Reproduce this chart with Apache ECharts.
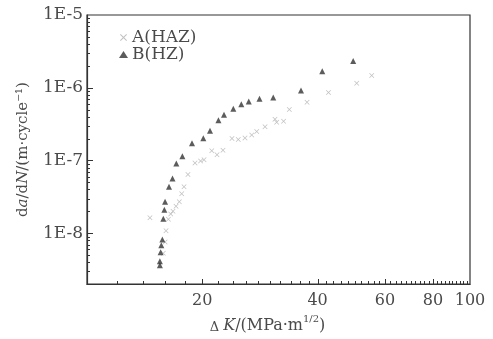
<!DOCTYPE html>
<html>
<head>
<meta charset="utf-8">
<script src="https://cdn.jsdelivr.net/npm/echarts@6/dist/echarts.min.js"></script>
<style>
html,body{margin:0;padding:0;background:#fff;}
#c{width:493px;height:339px;}
</style>
</head>
<body>
<div id="c"></div>
<script>
// Series A (HAZ): ΔK (MPa·m^1/2) and da/dN (m/cycle)
const aX = [14.60,15.82,15.99,16.08,16.31,16.54,16.77,17.08,17.42,17.67,17.92,18.35,19.14,19.79,20.21,21.17,21.85,22.65,23.91,24.83,25.85,26.92,27.74,29.16,30.96,31.28,32.60,33.75,37.54,42.71,50.60,55.38];
const aY = [1.63e-8,5.30e-9,7.57e-9,1.08e-8,1.56e-8,1.84e-8,2.01e-8,2.35e-8,2.71e-8,3.49e-8,4.37e-8,6.44e-8,9.21e-8,9.88e-8,1.02e-7,1.36e-7,1.20e-7,1.38e-7,2.01e-7,1.94e-7,2.04e-7,2.24e-7,2.51e-7,2.90e-7,3.68e-7,3.36e-7,3.46e-7,5.04e-7,6.32e-7,8.58e-7,1.15e-6,1.47e-6];
// Series B (HZ)
const bX = [15.50,15.50,15.57,15.63,15.73,15.82,15.92,15.99,16.37,16.72,17.11,17.74,18.80,20.12,20.95,22.04,22.79,24.10,25.29,26.44,28.21,30.64,36.20,41.13,49.55];
const bY = [3.63e-9,4.11e-9,5.46e-9,6.84e-9,8.22e-9,1.58e-8,2.10e-8,2.71e-8,4.37e-8,5.65e-8,9.10e-8,1.14e-7,1.73e-7,2.03e-7,2.57e-7,3.57e-7,4.25e-7,5.15e-7,5.91e-7,6.48e-7,7.04e-7,7.32e-7,9.15e-7,1.68e-6,2.33e-6];

const seriesNames = ['A(HAZ)','B(HZ)'];
const xTickLabels = [20,40,60,80,100];
const yTickLabels = [1e-8,1e-7,1e-6,1e-5];
const xRange = [10,100];
const yRange = [2e-9,1e-5];

// minor tick positions
const xMinor = [];
for (let v = 12; v <= 98; v += 2) if (xTickLabels.indexOf(v) < 0) xMinor.push(v);
const yMinor = [];
for (let e = -9; e <= -6; e++) for (let m = 2; m <= 9; m++) yMinor.push(+(m + 'e' + e));

const FONT = 'DejaVu Serif';
const TXT = '#4a4a4a';
const LINE = '#333333';
const crossPath = 'path://M0,1L1,0L5,4L9,0L10,1L6,5L10,9L9,10L5,6L1,10L0,9L4,5Z';

const chart = echarts.init(document.getElementById('c'), null, {renderer:'canvas'});
chart.setOption({
  animation:false,
  backgroundColor:'#fff',
  grid:{left:87,right:23,top:15,bottom:46,show:true,borderColor:LINE,borderWidth:1.2,backgroundColor:'transparent'},
  legend:{
    orient:'vertical',left:114,top:24,itemWidth:9,itemHeight:7,itemGap:0,
    textStyle:{fontFamily:FONT,fontSize:17,color:TXT,lineHeight:16,padding:[0,0,0,-1]},
    data:[{name:seriesNames[0],icon:crossPath,itemStyle:{color:'#b0b0b0'}},{name:seriesNames[1],icon:'triangle',itemStyle:{color:'#333'}}]
  },
  xAxis:{
    type:'log',logBase:10,min:xRange[0],max:xRange[1],
    axisLine:{show:true,lineStyle:{color:LINE,width:1.2}},
    axisTick:{show:false},
    axisLabel:{customValues:xTickLabels,fontFamily:FONT,fontSize:16,color:TXT,margin:9,formatter:v=>String(Math.round(v))},
    splitLine:{show:false},minorTick:{show:false},
    name:'{g|Δ }{i|K}{n|/(MPa·m}{s|1/2}{n|)}',nameLocation:'middle',nameGap:14,
    nameTextStyle:{padding:[0,22,0,0],rich:{
      g:{fontFamily:FONT,fontSize:13,color:TXT,lineHeight:20,verticalAlign:'bottom'},
      i:{fontFamily:FONT,fontSize:16,color:TXT,fontStyle:'italic',lineHeight:20,verticalAlign:'bottom'},
      n:{fontFamily:FONT,fontSize:16,color:TXT,lineHeight:20,verticalAlign:'bottom'},
      s:{fontFamily:FONT,fontSize:10,color:TXT,lineHeight:12,verticalAlign:'top'}
    }}
  },
  yAxis:{
    type:'log',logBase:10,min:yRange[0],max:yRange[1],
    axisLine:{show:true,lineStyle:{color:LINE,width:1.2}},
    axisTick:{show:false},
    axisLabel:{customValues:yTickLabels,fontFamily:FONT,fontSize:17,color:TXT,margin:4,formatter:v=>'1E'+Math.round(Math.log10(v))},
    splitLine:{show:false},minorTick:{show:false},
    name:'{n|d}{i|a}{n|/d}{i|N}{n|/(m·cycle⁻¹)}',nameLocation:'middle',nameGap:56,nameRotate:90,
    nameTextStyle:{rich:{
      n:{fontFamily:FONT,fontSize:15,color:TXT},
      i:{fontFamily:FONT,fontSize:15,color:TXT,fontStyle:'italic'}
    }}
  },
  series:[{
    name:seriesNames[0],type:'scatter',z:3,
    symbol:crossPath,symbolSize:5,itemStyle:{color:'#b0b0b0'},
    data:aX.map((x,i)=>[x,aY[i]])
  },{
    name:seriesNames[1],type:'scatter',z:4,
    symbol:'triangle',symbolSize:6,itemStyle:{color:'#333'},
    data:bX.map((x,i)=>[x,bY[i]])
  }]
});

// inward tick marks, positioned through the chart's own axis scales
const ticks = [];
function addX(vals, len) {
  vals.forEach(v => {
    const p = chart.convertToPixel({gridIndex:0}, [v, yRange[0]]);
    if (!p) return;
    const x = Math.round(p[0]) + 0.5, y = Math.round(p[1]);
    ticks.push({type:'line', silent:true, z:50, shape:{x1:x, y1:y, x2:x, y2:y-len}, style:{stroke:LINE, lineWidth:1}});
  });
}
function addY(vals, len) {
  vals.forEach(v => {
    const p = chart.convertToPixel({gridIndex:0}, [xRange[0], v]);
    if (!p) return;
    const x = Math.round(p[0]), y = Math.round(p[1]) + 0.5;
    ticks.push({type:'line', silent:true, z:50, shape:{x1:x, y1:y, x2:x+len, y2:y}, style:{stroke:LINE, lineWidth:1}});
  });
}
addX(xMinor, 3);
addX(xTickLabels.filter(v => v < 100), 5);
addY(yMinor, 3);
addY(yTickLabels.filter(v => v < 1e-5), 6);
chart.setOption({graphic:{elements:ticks}});
</script>
</body>
</html>
